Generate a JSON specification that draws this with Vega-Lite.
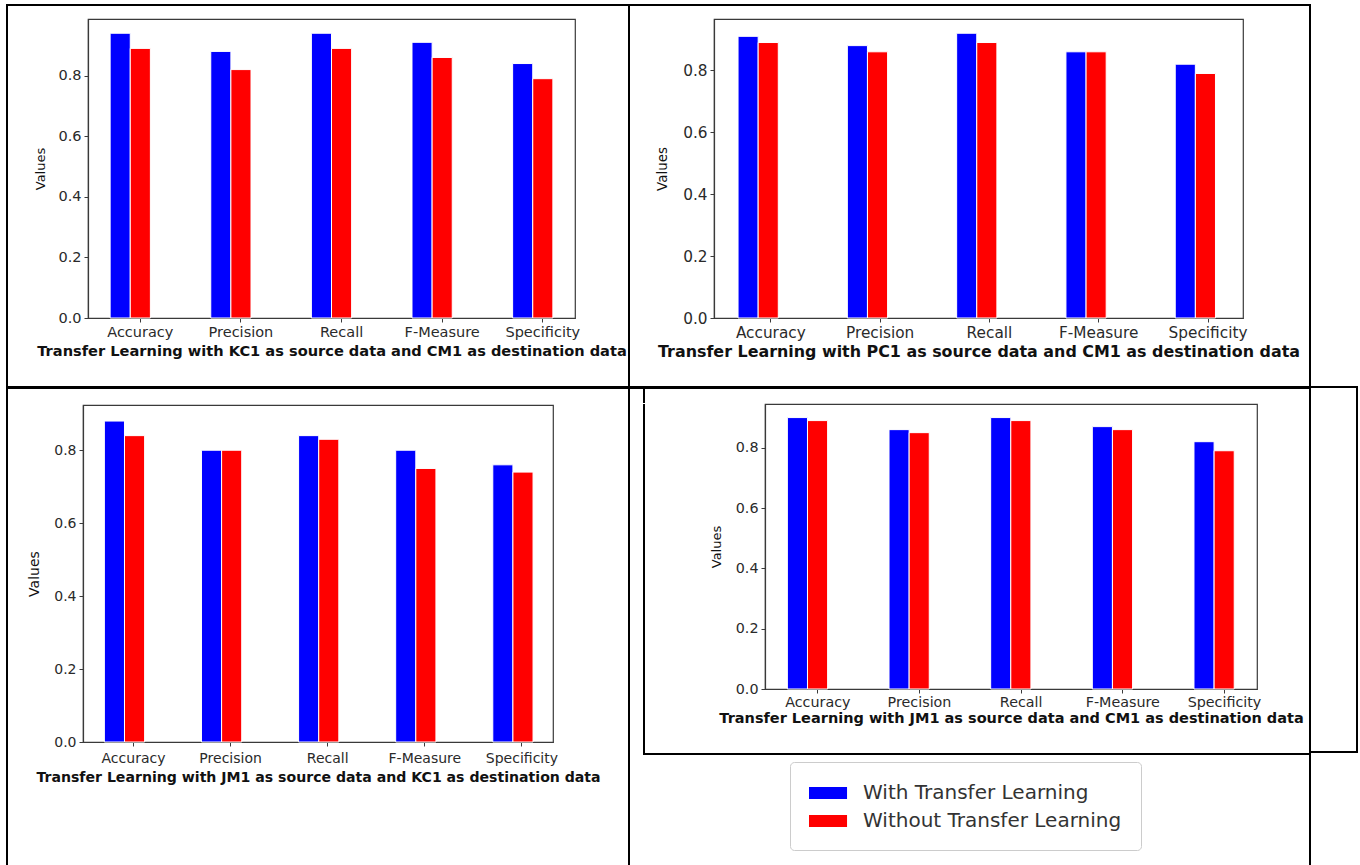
{
  "$schema": "https://vega.github.io/schema/vega-lite/v6.json",
  "padding": {"left": 6, "top": 4, "right": 0, "bottom": 0},
  "background": "white",
  "config": {
    "view": {"stroke": null},
    "font": "DejaVu Sans",
    "axis": {"labelFont": "DejaVu Sans", "titleFont": "DejaVu Sans", "labelColor": "#2a2a2a", "titleColor": "#111", "domainColor": "#3a3a3a", "tickColor": "#3a3a3a", "tickSize": 4, "grid": false, "domainWidth": 1.2},
    "axisX": {"labelAngle": 0, "titleFontWeight": "bold", "labelPadding": 3, "titlePadding": 2},
    "axisY": {"titleFontWeight": "normal", "labelPadding": 3}
  },
  "datasets": {
    "p1": [
      {"metric": "Accuracy", "series": "With Transfer Learning", "value": 0.94},
      {"metric": "Accuracy", "series": "Without Transfer Learning", "value": 0.89},
      {"metric": "Precision", "series": "With Transfer Learning", "value": 0.88},
      {"metric": "Precision", "series": "Without Transfer Learning", "value": 0.82},
      {"metric": "Recall", "series": "With Transfer Learning", "value": 0.94},
      {"metric": "Recall", "series": "Without Transfer Learning", "value": 0.89},
      {"metric": "F-Measure", "series": "With Transfer Learning", "value": 0.91},
      {"metric": "F-Measure", "series": "Without Transfer Learning", "value": 0.86},
      {"metric": "Specificity", "series": "With Transfer Learning", "value": 0.84},
      {"metric": "Specificity", "series": "Without Transfer Learning", "value": 0.79}
    ],
    "p2": [
      {"metric": "Accuracy", "series": "With Transfer Learning", "value": 0.91},
      {"metric": "Accuracy", "series": "Without Transfer Learning", "value": 0.89},
      {"metric": "Precision", "series": "With Transfer Learning", "value": 0.88},
      {"metric": "Precision", "series": "Without Transfer Learning", "value": 0.86},
      {"metric": "Recall", "series": "With Transfer Learning", "value": 0.92},
      {"metric": "Recall", "series": "Without Transfer Learning", "value": 0.89},
      {"metric": "F-Measure", "series": "With Transfer Learning", "value": 0.86},
      {"metric": "F-Measure", "series": "Without Transfer Learning", "value": 0.86},
      {"metric": "Specificity", "series": "With Transfer Learning", "value": 0.82},
      {"metric": "Specificity", "series": "Without Transfer Learning", "value": 0.79}
    ],
    "p3": [
      {"metric": "Accuracy", "series": "With Transfer Learning", "value": 0.88},
      {"metric": "Accuracy", "series": "Without Transfer Learning", "value": 0.84},
      {"metric": "Precision", "series": "With Transfer Learning", "value": 0.80},
      {"metric": "Precision", "series": "Without Transfer Learning", "value": 0.80},
      {"metric": "Recall", "series": "With Transfer Learning", "value": 0.84},
      {"metric": "Recall", "series": "Without Transfer Learning", "value": 0.83},
      {"metric": "F-Measure", "series": "With Transfer Learning", "value": 0.80},
      {"metric": "F-Measure", "series": "Without Transfer Learning", "value": 0.75},
      {"metric": "Specificity", "series": "With Transfer Learning", "value": 0.76},
      {"metric": "Specificity", "series": "Without Transfer Learning", "value": 0.74}
    ],
    "p4": [
      {"metric": "Accuracy", "series": "With Transfer Learning", "value": 0.90},
      {"metric": "Accuracy", "series": "Without Transfer Learning", "value": 0.89},
      {"metric": "Precision", "series": "With Transfer Learning", "value": 0.86},
      {"metric": "Precision", "series": "Without Transfer Learning", "value": 0.85},
      {"metric": "Recall", "series": "With Transfer Learning", "value": 0.90},
      {"metric": "Recall", "series": "Without Transfer Learning", "value": 0.89},
      {"metric": "F-Measure", "series": "With Transfer Learning", "value": 0.87},
      {"metric": "F-Measure", "series": "Without Transfer Learning", "value": 0.86},
      {"metric": "Specificity", "series": "With Transfer Learning", "value": 0.82},
      {"metric": "Specificity", "series": "Without Transfer Learning", "value": 0.79}
    ]
  },
  "spacing": 0,
  "bounds": "full",
  "resolve": {"scale": {"color": "independent"}, "legend": {"color": "independent"}},
  "hconcat": [
    {"data": {"values": []}, "mark": "rect", "encoding": {}, "width": 2, "height": 861, "view": {"fill": "black", "stroke": null}},
    {
      "spacing": 0, "bounds": "full",
      "resolve": {"scale": {"color": "independent"}, "legend": {"color": "independent"}},
      "vconcat": [
        {"data": {"values": []}, "mark": "rect", "encoding": {}, "width": 620, "height": 2, "view": {"fill": "black", "stroke": null}},
        {"data": {"values": []}, "mark": "rect", "encoding": {}, "width": 620, "height": 12},
        {
          "spacing": 0, "bounds": "flush",
          "resolve": {"scale": {"color": "independent"}, "legend": {"color": "independent"}},
          "hconcat": [
            {"data": {"values": []}, "mark": "rect", "encoding": {}, "width": 80, "height": 367},
            {
              "data": {"name": "p1"},
              "width": 487, "height": 299,
              "view": {"stroke": "#3a3a3a", "strokeWidth": 1.2},
              "mark": {"type": "bar", "stroke": "white", "strokeWidth": 1},
              "encoding": {
                "x": {"field": "metric", "type": "nominal", "sort": null,
                      "scale": {"paddingInner": 0.4, "paddingOuter": 0.12, "align": 0.9167},
                      "axis": {"title": "Transfer Learning with KC1 as source data and CM1 as destination data", "titleFontSize": 14.6, "labelFontSize": 14.5, "titlePadding": 5}},
                "xOffset": {"field": "series", "type": "nominal", "scale": {"domain": ["With Transfer Learning", "Without Transfer Learning", "gap"], "paddingInner": 0, "paddingOuter": 0}},
                "y": {"field": "value", "type": "quantitative", "scale": {"domain": [0, 0.987], "nice": false},
                      "axis": {"title": "Values", "values": [0, 0.2, 0.4, 0.6, 0.8], "format": ".1f", "labelFontSize": 14.5, "titleFontSize": 13, "titlePadding": 10}},
                "color": {"field": "series", "type": "nominal", "scale": {"domain": ["With Transfer Learning", "Without Transfer Learning"], "range": ["#0000ff", "#ff0000"]}, "legend": null}
              }
            },
            {"data": {"values": []}, "mark": "rect", "encoding": {}, "width": 53, "height": 1}
          ]
        },
        {"data": {"values": []}, "mark": "rect", "encoding": {}, "width": 620, "height": 3, "view": {"fill": "black", "stroke": null}},
        {"data": {"values": []}, "mark": "rect", "encoding": {}, "width": 620, "height": 15},
        {
          "spacing": 0, "bounds": "flush",
          "resolve": {"scale": {"color": "independent"}, "legend": {"color": "independent"}},
          "hconcat": [
            {"data": {"values": []}, "mark": "rect", "encoding": {}, "width": 75, "height": 462},
            {
              "data": {"name": "p3"},
              "width": 470, "height": 337,
              "view": {"stroke": "#3a3a3a", "strokeWidth": 1.2},
              "mark": {"type": "bar", "stroke": "white", "strokeWidth": 1},
              "encoding": {
                "x": {"field": "metric", "type": "nominal", "sort": null,
                      "scale": {"paddingInner": 0.4, "paddingOuter": 0.12, "align": 0.9167},
                      "axis": {"title": "Transfer Learning with JM1 as source data and KC1 as destination data", "titleFontSize": 14.1, "labelFontSize": 14, "labelPadding": 5, "titlePadding": 5}},
                "xOffset": {"field": "series", "type": "nominal", "scale": {"domain": ["With Transfer Learning", "Without Transfer Learning", "gap"], "paddingInner": 0, "paddingOuter": 0}},
                "y": {"field": "value", "type": "quantitative", "scale": {"domain": [0, 0.924], "nice": false},
                      "axis": {"title": "Values", "values": [0, 0.2, 0.4, 0.6, 0.8], "format": ".1f", "labelFontSize": 14, "titleFontSize": 14, "titlePadding": 12}},
                "color": {"field": "series", "type": "nominal", "scale": {"domain": ["With Transfer Learning", "Without Transfer Learning"], "range": ["#0000ff", "#ff0000"]}, "legend": null}
              }
            }
          ]
        }
      ]
    },
    {"data": {"values": []}, "mark": "rect", "encoding": {}, "width": 2, "height": 861, "view": {"fill": "black", "stroke": null}},
    {
      "spacing": 0, "bounds": "full",
      "resolve": {"scale": {"color": "independent"}, "legend": {"color": "independent"}},
      "vconcat": [
        {"data": {"values": []}, "mark": "rect", "encoding": {}, "width": 679, "height": 2, "view": {"fill": "black", "stroke": null}},
        {"data": {"values": []}, "mark": "rect", "encoding": {}, "width": 679, "height": 12},
        {
          "spacing": 0, "bounds": "flush",
          "resolve": {"scale": {"color": "independent"}, "legend": {"color": "independent"}},
          "hconcat": [
            {"data": {"values": []}, "mark": "rect", "encoding": {}, "width": 84, "height": 367},
            {
              "data": {"name": "p2"},
              "width": 529, "height": 299,
              "view": {"stroke": "#3a3a3a", "strokeWidth": 1.2},
              "mark": {"type": "bar", "stroke": "white", "strokeWidth": 1},
              "encoding": {
                "x": {"field": "metric", "type": "nominal", "sort": null,
                      "scale": {"paddingInner": 0.4, "paddingOuter": 0.12, "align": 0.9167},
                      "axis": {"title": "Transfer Learning with PC1 as source data and CM1 as destination data", "titleFontSize": 15.9, "labelFontSize": 15.3, "titlePadding": 3}},
                "xOffset": {"field": "series", "type": "nominal", "scale": {"domain": ["With Transfer Learning", "Without Transfer Learning", "gap"], "paddingInner": 0, "paddingOuter": 0}},
                "y": {"field": "value", "type": "quantitative", "scale": {"domain": [0, 0.966], "nice": false},
                      "axis": {"title": "Values", "values": [0, 0.2, 0.4, 0.6, 0.8], "format": ".1f", "labelFontSize": 15.3, "titleFontSize": 13.5, "titlePadding": 13}},
                "color": {"field": "series", "type": "nominal", "scale": {"domain": ["With Transfer Learning", "Without Transfer Learning"], "range": ["#0000ff", "#ff0000"]}, "legend": null}
              }
            },
            {"data": {"values": []}, "mark": "rect", "encoding": {}, "width": 66, "height": 1}
          ]
        },
        {"data": {"values": []}, "mark": "rect", "encoding": {}, "width": 679, "height": 3, "view": {"fill": "black", "stroke": null}},
        {
          "spacing": 0, "bounds": "flush",
          "hconcat": [
            {"data": {"values": []}, "mark": "rect", "encoding": {}, "width": 13, "height": 14},
            {"data": {"values": []}, "mark": "rect", "encoding": {}, "width": 2, "height": 14, "view": {"fill": "black", "stroke": null}}
          ]
        },
        {
          "spacing": 0, "bounds": "flush",
          "resolve": {"scale": {"color": "independent"}, "legend": {"color": "independent"}},
          "hconcat": [
            {"data": {"values": []}, "mark": "rect", "encoding": {}, "width": 13, "height": 349},
            {"data": {"values": []}, "mark": "rect", "encoding": {}, "width": 2, "height": 349, "view": {"fill": "black", "stroke": null}},
            {"data": {"values": []}, "mark": "rect", "encoding": {}, "width": 120, "height": 1},
            {
              "data": {"name": "p4"},
              "width": 492, "height": 285,
              "view": {"stroke": "#3a3a3a", "strokeWidth": 1.2},
              "mark": {"type": "bar", "stroke": "white", "strokeWidth": 1},
              "encoding": {
                "x": {"field": "metric", "type": "nominal", "sort": null,
                      "scale": {"paddingInner": 0.4, "paddingOuter": 0.12, "align": 0.9167},
                      "axis": {"title": "Transfer Learning with JM1 as source data and CM1 as destination data", "titleFontSize": 14.5, "labelFontSize": 14.3, "labelPadding": 2, "titlePadding": 2}},
                "xOffset": {"field": "series", "type": "nominal", "scale": {"domain": ["With Transfer Learning", "Without Transfer Learning", "gap"], "paddingInner": 0, "paddingOuter": 0}},
                "y": {"field": "value", "type": "quantitative", "scale": {"domain": [0, 0.945], "nice": false},
                      "axis": {"title": "Values", "values": [0, 0.2, 0.4, 0.6, 0.8], "format": ".1f", "labelFontSize": 14.3, "titleFontSize": 13, "titlePadding": 12}},
                "color": {"field": "series", "type": "nominal", "scale": {"domain": ["With Transfer Learning", "Without Transfer Learning"], "range": ["#0000ff", "#ff0000"]}, "legend": null}
              }
            }
          ]
        },
        {
          "spacing": 0, "bounds": "flush",
          "hconcat": [
            {"data": {"values": []}, "mark": "rect", "encoding": {}, "width": 13, "height": 2},
            {"data": {"values": []}, "mark": "rect", "encoding": {}, "width": 666, "height": 2, "view": {"fill": "black", "stroke": null}}
          ]
        },
        {
          "spacing": 0, "bounds": "flush",
          "resolve": {"scale": {"color": "independent"}, "legend": {"color": "independent"}},
          "hconcat": [
            {"data": {"values": []}, "mark": "rect", "encoding": {}, "width": 160, "height": 108},
            {
              "data": {"values": []},
              "mark": "rect",
              "width": 1, "height": 1,
              "encoding": {
                "color": {"field": "series", "type": "nominal", "scale": {"domain": ["With Transfer Learning", "Without Transfer Learning"], "range": ["#0000ff", "#ff0000"]},
                          "legend": {"orient": "none", "legendX": 0, "legendY": 7, "title": null, "direction": "vertical",
                                     "symbolType": "M-1,-0.5H2.17V0.5H-1Z", "symbolSize": 576, "symbolStrokeWidth": 0,
                                     "labelFont": "DejaVu Sans", "labelFontSize": 20, "labelColor": "#333", "labelOffset": 30, "labelLimit": 500,
                                     "rowPadding": 6, "padding": 19, "strokeColor": "#cccccc", "fillColor": "white", "cornerRadius": 4}}
              }
            }
          ]
        }
      ]
    },
    {"data": {"values": []}, "mark": "rect", "encoding": {}, "width": 2, "height": 861, "view": {"fill": "black", "stroke": null}},
    {
      "spacing": 0, "bounds": "full",
      "vconcat": [
        {"data": {"values": []}, "mark": "rect", "encoding": {}, "width": 47, "height": 382},
        {"data": {"values": []}, "mark": "rect", "encoding": {}, "width": 47, "height": 2, "view": {"fill": "black", "stroke": null}},
        {
          "spacing": 0, "bounds": "flush",
          "hconcat": [
            {"data": {"values": []}, "mark": "rect", "encoding": {}, "width": 45, "height": 363},
            {"data": {"values": []}, "mark": "rect", "encoding": {}, "width": 2, "height": 363, "view": {"fill": "black", "stroke": null}}
          ]
        },
        {"data": {"values": []}, "mark": "rect", "encoding": {}, "width": 47, "height": 2, "view": {"fill": "black", "stroke": null}}
      ]
    }
  ]
}
